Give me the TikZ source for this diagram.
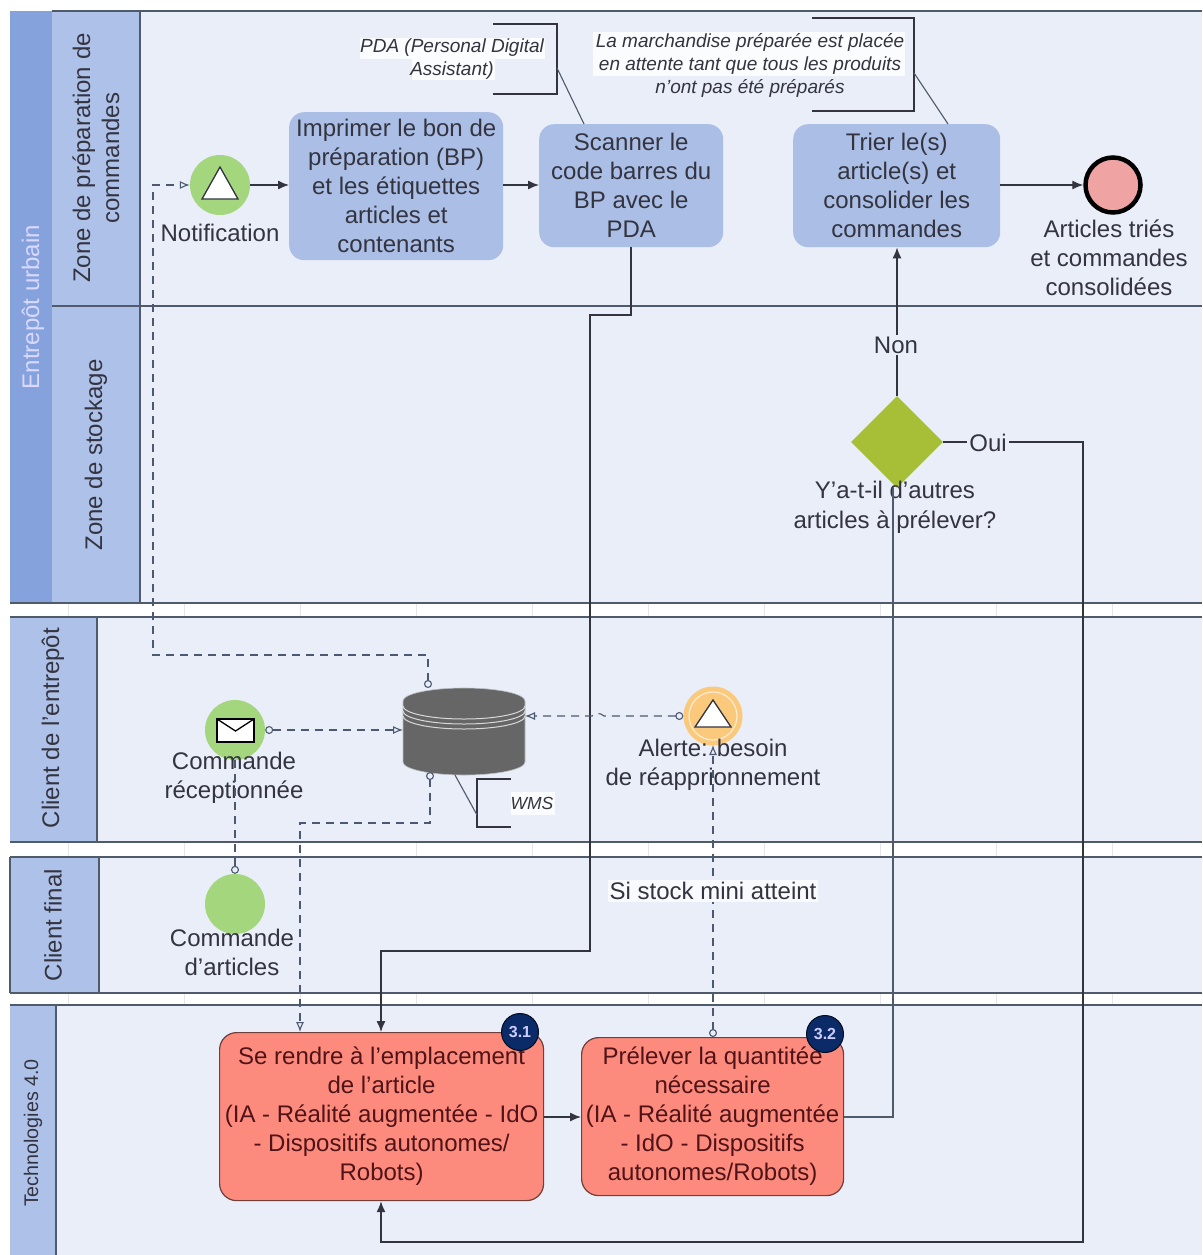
\documentclass[tikz,border=0pt]{standalone}
\usepackage{fontspec}
\setmainfont{Liberation Sans}
\usetikzlibrary{arrows.meta,shapes.geometric}
\definecolor{lanebg}{HTML}{E9EEF8}
\definecolor{poolhead}{HTML}{86A2DD}
\definecolor{lanehead}{HTML}{AEC1E9}
\definecolor{taskblue}{HTML}{ABBEE6}
\definecolor{taskred}{HTML}{FC8B7E}
\definecolor{evgreen}{HTML}{A4D67E}
\definecolor{evorange}{HTML}{FBC97C}
\definecolor{gateg}{HTML}{A7BF37}
\definecolor{endpink}{HTML}{EFA3A3}
\definecolor{badge}{HTML}{0A2A68}
\definecolor{rule}{HTML}{4F5A6B}
\definecolor{ink}{HTML}{33343F}
\definecolor{dashc}{HTML}{4B5A70}
\definecolor{tick}{HTML}{E4E6EA}
\tikzset{
  lab/.style={font=\fontsize{24}{29}\selectfont, text=ink, align=center, inner sep=0pt},
  lanelab/.style={lab, rotate=90},
  note/.style={font=\itshape\fontsize{19}{23}\selectfont, text=ink, align=center, inner sep=0pt},
  notewide/.style={font=\itshape\fontsize{17.5}{23}\selectfont, text=ink, align=center, inner sep=0pt},
  taskb/.style={rectangle, rounded corners=15pt, fill=taskblue, lab, anchor=north west},
  taskr/.style={rectangle, rounded corners=17pt, fill=taskred, draw=black!55!taskred, line width=1.2pt, lab, text=ink!60!red!60!black, anchor=north west},
  ev/.style={circle, minimum size=60pt, inner sep=0pt, fill=evgreen},
  flowline/.style={draw=ink, line width=1.3pt, -{Latex[length=11pt,width=9pt]}},
  flowplain/.style={draw=rule, line width=1.3pt},
  msg/.style={draw=dashc, line width=1.1pt, dash pattern=on 8pt off 6pt, {Circle[open,length=8pt,width=8pt,fill=lanebg]}-{Latex[open,length=10pt,width=8pt,fill=lanebg]}},
  msgn/.style={draw=dashc, line width=1.1pt, dash pattern=on 8pt off 6pt, {Circle[open,length=8pt,width=8pt,fill=lanebg]}-},
  bracket/.style={draw=ink, line width=1.3pt},
  bdg/.style={circle, minimum size=37pt, inner sep=0pt, fill=badge, draw=black!70!badge, line width=1pt, text=white!80!blue, font=\bfseries\fontsize{16}{18}\selectfont},
}
\begin{document}
\begin{tikzpicture}[x=1pt,y=-1pt]
\useasboundingbox (0,0) rectangle (1202,1255);
\fill[white] (0,0) rectangle (1202,1255);
% ruler strips
\foreach \yA/\yB in {603/617,842/857,993/1005}{
  \foreach \xx in {68,184,300,416,532,648,764,880,996,1112}{\draw[tick,line width=.8pt] (\xx,\yA) -- (\xx,\yB);}
}
% pools
\fill[lanebg] (10,11) rectangle (1202,603);
\fill[lanebg] (10,617) rectangle (1202,842);
\fill[lanebg] (10,857) rectangle (1202,993);
\fill[lanebg] (10,1005) rectangle (1202,1255);
\fill[poolhead] (10,11) rectangle (52,603);
\fill[lanehead] (52,11) rectangle (140,603);
\fill[lanehead] (10,617) rectangle (97,842);
\fill[lanehead] (10,857) rectangle (99,993);
\fill[lanehead] (10,1005) rectangle (56,1255);
\draw[rule,line width=1.2pt] (52,11) -- (1202,11);
\draw[rule,line width=1.2pt] (52,306) -- (1202,306);
\draw[rule,line width=1.2pt] (140,11) -- (140,603);
\draw[rule,line width=1.2pt] (10,603) -- (1202,603);
\draw[rule,line width=1.2pt] (10,617) -- (1202,617);
\draw[rule,line width=1.2pt] (97,617) -- (97,842);
\draw[rule,line width=1.2pt] (10,842) -- (1202,842);
\draw[rule,line width=1.2pt] (10,857) -- (1202,857);
\draw[rule,line width=1.2pt] (10,857) -- (10,993);
\draw[rule,line width=1.2pt] (99,857) -- (99,993);
\draw[rule,line width=1.2pt] (10,993) -- (1202,993);
\draw[rule,line width=1.2pt] (10,1005) -- (1202,1005);
\draw[rule,line width=1.2pt] (56,1005) -- (56,1255);
% lane labels
\node[lanelab, text=white!85!blue] (lp) at (33,307) {Entrepôt urbain};
\node[lanelab] (l1) at (96,158) {Zone de préparation de\\commandes};
\node[lanelab] (l2) at (96,455) {Zone de stockage};
\node[lanelab] (l3) at (53,728) {Client de l'entrepôt};
\node[lanelab] (l4) at (53,925) {Client final};
\node[lanelab, font=\fontsize{19.7}{22}\selectfont] (l5) at (33,1133) {Technologies 4.0};
% notes: pale backing behind the text
\fill[white!80!lanebg] (360,38) rectangle (545,59);
\fill[white!80!lanebg] (412,59) rectangle (495,80);
\fill[white!80!lanebg] (593,32) rectangle (905,76);
\node[note] (n1) at (452,59) {PDA (Personal Digital\\Assistant)};
\node[note] (n2) at (750,65) {La marchandise préparée est placée\\en attente tant que tous les produits\\n'ont pas été préparés};
\fill[white!80!lanebg] (511,792) rectangle (555,815);
\node[notewide] (n3) at (532,803) {WMS};
% tasks
\node[taskb, minimum width=214pt, minimum height=148pt] (t1) at (289,112) {Imprimer le bon de\\préparation (BP)\\et les étiquettes\\articles et\\contenants};
\node[taskb, minimum width=184pt, minimum height=123pt] (t2) at (539,124) {Scanner le\\code barres du\\BP avec le\\PDA};
\node[taskb, minimum width=207pt, minimum height=123pt] (t3) at (793,124) {Trier le(s)\\article(s) et\\consolider les\\commandes};
\node[taskr, minimum width=324pt, minimum height=168pt] (t4) at (219,1032) {Se rendre à l'emplacement\\de l'article\\(IA - Réalité augmentée - IdO\\- Dispositifs autonomes/\\Robots)};
\node[taskr, minimum width=262pt, minimum height=158pt] (t5) at (581,1037) {Prélever la quantitée\\nécessaire\\(IA - Réalité augmentée\\- IdO - Dispositifs\\autonomes/Robots)};
\node[bdg] (b1) at (520,1032) {3.1};
\node[bdg] (b2) at (825,1034) {3.2};
% events
\node[ev] (e1) at (220,185) {};
\draw[ink,fill=white,line width=1.3pt] (220,167) -- (238,199) -- (202,199) -- cycle;
\node[circle, minimum size=55pt, inner sep=0pt, fill=endpink, draw=black, line width=4.5pt] (e2) at (1113,185) {};
\node[ev] (e3) at (235,730) {};
\draw[black,fill=white,line width=1.3pt] (217,719) rectangle (254,742);
\draw[black,line width=1.3pt] (217,719) -- (235.5,731) -- (254,719);
\node[ev] (e4) at (235,904) {};
\node[ev, fill=evorange, minimum size=59pt] (e5) at (713,716) {};
\draw[white!60!evorange,line width=1.3pt] (713,716) circle (24);
\draw[ink,fill=white,line width=1.3pt] (713,700) -- (731,727) -- (695,727) -- cycle;
% gateway
\node[diamond, fill=gateg, minimum width=92pt, minimum height=92pt, inner sep=0pt] (g) at (897,442) {};
% database
\fill[black!60!white,draw=black!20!lanebg,line width=.6pt] (403,701) -- (403,762) arc[start angle=180,end angle=0,x radius=61,y radius=13] -- (525,701) arc[start angle=0,end angle=-180,x radius=61,y radius=13] -- cycle;
\coordinate (dbt) at (428,688);
\coordinate (dbb) at (430,772);
\coordinate (dbl) at (403,730);
\coordinate (dbr) at (525,716);
\draw[white!85!black,line width=1pt] (403,706) arc[start angle=180,end angle=0,x radius=61,y radius=13];
\draw[white!85!black,line width=1pt] (403,711) arc[start angle=180,end angle=0,x radius=61,y radius=13];
\draw[white!85!black,line width=1pt] (403,716) arc[start angle=180,end angle=0,x radius=61,y radius=13];
% text labels below events
\node[lab] (tn) at (220,233) {Notification};
\node[lab] (te) at (1109,258) {Articles triés\\et commandes\\consolidées};
\node[lab] (tc) at (234,778) {Commande\\réceptionnée};
\node[lab] (td) at (232,952) {Commande\\d'articles};
\node[lab] (ta) at (713,765) {Alerte: besoin\\de réapprionnement};
\node[lab, font=\fontsize{24}{30}\selectfont] (tq) at (895,507) {Y'a-t-il d'autres\\articles à prélever?};
% sequence flows
\draw[flowline] (e1.east) -- (t1.west |- e1.east);
\draw[flowline] (t1.east |- 0,185) -- (t2.west |- 0,185);
\draw[flowline] (t3.east |- e2) -- (e2.west);
\draw[flowline] (t4.east |- 0,1117) -- (t5.west |- 0,1117);
\draw[flowline] (g.north) -- (t3.south -| g.north);
\coordinate (c1) at (631,315);
\coordinate (c2) at (590,315);
\coordinate (c3) at (590,951);
\coordinate (c4) at (381,951);
\draw[flowline] (c1 |- t2.south) -- (c1) -- (c2) -- (c3) -- (c4) -- (c4 |- t4.north);
\coordinate (c5) at (1083,442);
\coordinate (c6) at (1083,1242);
\coordinate (c7) at (381,1242);
\draw[flowline] (g.east) -- (c5) -- (c6) -- (c7) -- (c7 |- t4.south);
\coordinate (c8) at (893,1117);
\draw[draw=rule,line width=1.3pt] (t5.east |- c8) -- (c8) -- (c8 |- g.south);
% message flows
\coordinate (m1) at (428,655);
\coordinate (m2) at (153,655);
\coordinate (m3) at (153,185);
\draw[msg] (dbt) -- (m1) -- (m2) -- (m3) -- (e1.west);
\draw[msg] (e3.east) -- (dbl);
\coordinate (m4) at (604,716);
\coordinate (m5) at (592,716);
\draw[msg] (e5.west) -- (m4) to[out=135,in=45,looseness=1] (m5) -- (dbr);
\coordinate (m6) at (430,823);
\coordinate (m7) at (300,823);
\draw[msg] (dbb) -- (m6) -- (m7) -- (m7 |- t4.north);
\draw[msgn] (e4.north) -- (e3.south);
\coordinate (m8) at (713,745);
\draw[msg] (t5.north -| e5) -- (m8);
% annotation brackets
\draw[bracket] (493,24) -- (557,24) -- (557,94) -- (493,94);
\coordinate (an1) at (557,68);
\draw[draw=rule,line width=1.1pt] (an1) -- (584,124);
\draw[bracket] (812,18) -- (914,18) -- (914,111) -- (812,111);
\coordinate (an2) at (914,73);
\draw[draw=rule,line width=1.1pt] (an2) -- (948,124);
\draw[bracket] (511,779) -- (477,779) -- (477,827) -- (511,827);
\coordinate (an3) at (477,815);
\draw[draw=rule,line width=1.1pt] (455,775) -- (an3);
% labels on flows
\node[lab, fill=lanebg, inner sep=2pt] (ln) at (896,345) {Non};
\node[lab, fill=lanebg, inner sep=2pt] (lo) at (988,443) {Oui};
\node[lab, fill=white!70!lanebg, inner sep=2pt] (ls) at (713,891) {Si stock mini atteint};
\end{tikzpicture}
\end{document}
